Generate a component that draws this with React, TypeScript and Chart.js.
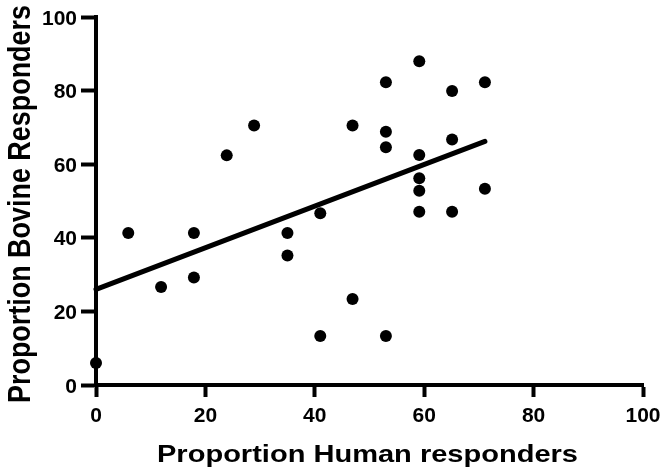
import React, { useEffect, useRef } from 'react';
import { Chart, registerables } from 'chart.js';

Chart.register(...registerables);

// Data
const humanX = [0, 5.9, 11.9, 17.9, 17.9, 23.9, 28.9, 35, 35, 41, 41, 46.9, 46.9, 53, 53, 53, 53, 59.1, 59.1, 59.1, 59.1, 59.1, 65.1, 65.1, 65.1, 71.1, 71.1];
const bovineY = [6, 41.3, 26.6, 41.3, 29.2, 62.4, 70.5, 41.3, 35.2, 46.7, 13.3, 70.5, 23.4, 82.3, 68.8, 64.6, 13.3, 88, 62.5, 56.2, 52.8, 47.1, 79.9, 66.7, 47.1, 82.3, 53.3];
const fitX = [0, 71.1];
const fitY = [26.0, 66.2];
const xTicks = [0, 20, 40, 60, 80, 100];
const yTicks = [0, 20, 40, 60, 80, 100];
const xTitle = 'Proportion Human responders';
const yTitle = 'Proportion Bovine Responders';

const FONT = '"Liberation Sans", Arial, Helvetica, sans-serif';

export default function App() {
  const ref = useRef<HTMLCanvasElement>(null);

  useEffect(() => {
    document.body.style.margin = '0';
    const canvas = ref.current;
    if (!canvas) return;

    // Axis titles and tick labels drawn with explicit canvas fonts
    const textPlugin = {
      id: 'axisText',
      afterDraw(chart: any) {
        const ctx = chart.ctx as CanvasRenderingContext2D;
        const area = chart.chartArea;
        const xs = chart.scales.x;
        const ys = chart.scales.y;

        ctx.save();
        ctx.fillStyle = '#000';
        ctx.font = `bold 21px ${FONT}`;
        ctx.textAlign = 'center';
        ctx.textBaseline = 'alphabetic';
        xTicks.forEach((v) => {
          ctx.fillText(String(v), xs.getPixelForValue(v), area.bottom + 37);
        });
        ctx.textAlign = 'right';
        yTicks.forEach((v) => {
          ctx.fillText(String(v), area.left - 19, ys.getPixelForValue(v) + 7.5);
        });
        ctx.restore();

        // x-axis title
        ctx.save();
        ctx.fillStyle = '#000';
        ctx.font = `bold 24px ${FONT}`;
        ctx.textAlign = 'center';
        ctx.textBaseline = 'alphabetic';
        const wx = ctx.measureText(xTitle).width;
        ctx.translate((area.left + area.right) / 2 - 2, area.bottom + 77);
        ctx.scale(421 / wx, 1);
        ctx.fillText(xTitle, 0, 0);
        ctx.restore();
        // y-axis title
        ctx.save();
        ctx.fillStyle = '#000';
        ctx.font = `bold 27px ${FONT}`;
        ctx.textAlign = 'center';
        ctx.textBaseline = 'alphabetic';
        const wy = ctx.measureText(yTitle).width;
        ctx.translate(30, 204);
        ctx.scale(1.15, 1);
        ctx.rotate(-Math.PI / 2);
        ctx.scale(398 / wy, 1);
        ctx.fillText(yTitle, 0, 0);
        ctx.restore();
      },
    };

    const chart = new Chart(canvas, {
      type: 'scatter',
      data: {
        datasets: [
          {
            type: 'scatter',
            data: humanX.map((x, i) => ({ x, y: bovineY[i] })),
            backgroundColor: '#000',
            borderColor: '#000',
            borderWidth: 0,
            pointRadius: 6,
            clip: false,
          } as any,
          {
            type: 'line',
            data: fitX.map((x, i) => ({ x, y: fitY[i] })),
            borderColor: '#000',
            borderWidth: 5,
            pointRadius: 0,
            borderCapStyle: 'round',
            fill: false,
            clip: false,
          } as any,
        ],
      },
      options: {
        responsive: false,
        animation: false,
        devicePixelRatio: 1,
        layout: { padding: { left: 0, right: 25, top: 17, bottom: 0 } },
        plugins: {
          legend: { display: false },
          tooltip: { enabled: false },
          title: { display: false },
        },
        scales: {
          x: {
            type: 'linear',
            min: 0,
            max: 100,
            afterBuildTicks: (s: any) => {
              s.ticks = xTicks.map((v) => ({ value: v }));
            },
            afterFit: (s: any) => {
              s.height = 90;
            },
            grid: {
              drawOnChartArea: false,
              drawTicks: true,
              tickLength: 12,
              tickWidth: 4,
              tickColor: '#000',
            },
            border: { display: true, width: 4, color: '#000' },
            ticks: { display: false },
          },
          y: {
            type: 'linear',
            min: 0,
            max: 100,
            afterBuildTicks: (s: any) => {
              s.ticks = yTicks.map((v) => ({ value: v }));
            },
            afterFit: (s: any) => {
              s.width = 96;
            },
            grid: {
              drawOnChartArea: false,
              drawTicks: true,
              tickLength: 15,
              tickWidth: 4,
              tickColor: '#000',
            },
            border: { display: true, width: 4, color: '#000' },
            ticks: { display: false },
          },
        },
      } as any,
      plugins: [textPlugin],
    });

    return () => chart.destroy();
  }, []);

  return (
    <div style={{ width: 668, height: 475, background: '#fff' }}>
      <canvas ref={ref} width={668} height={475} style={{ display: 'block' }} />
    </div>
  );
}
